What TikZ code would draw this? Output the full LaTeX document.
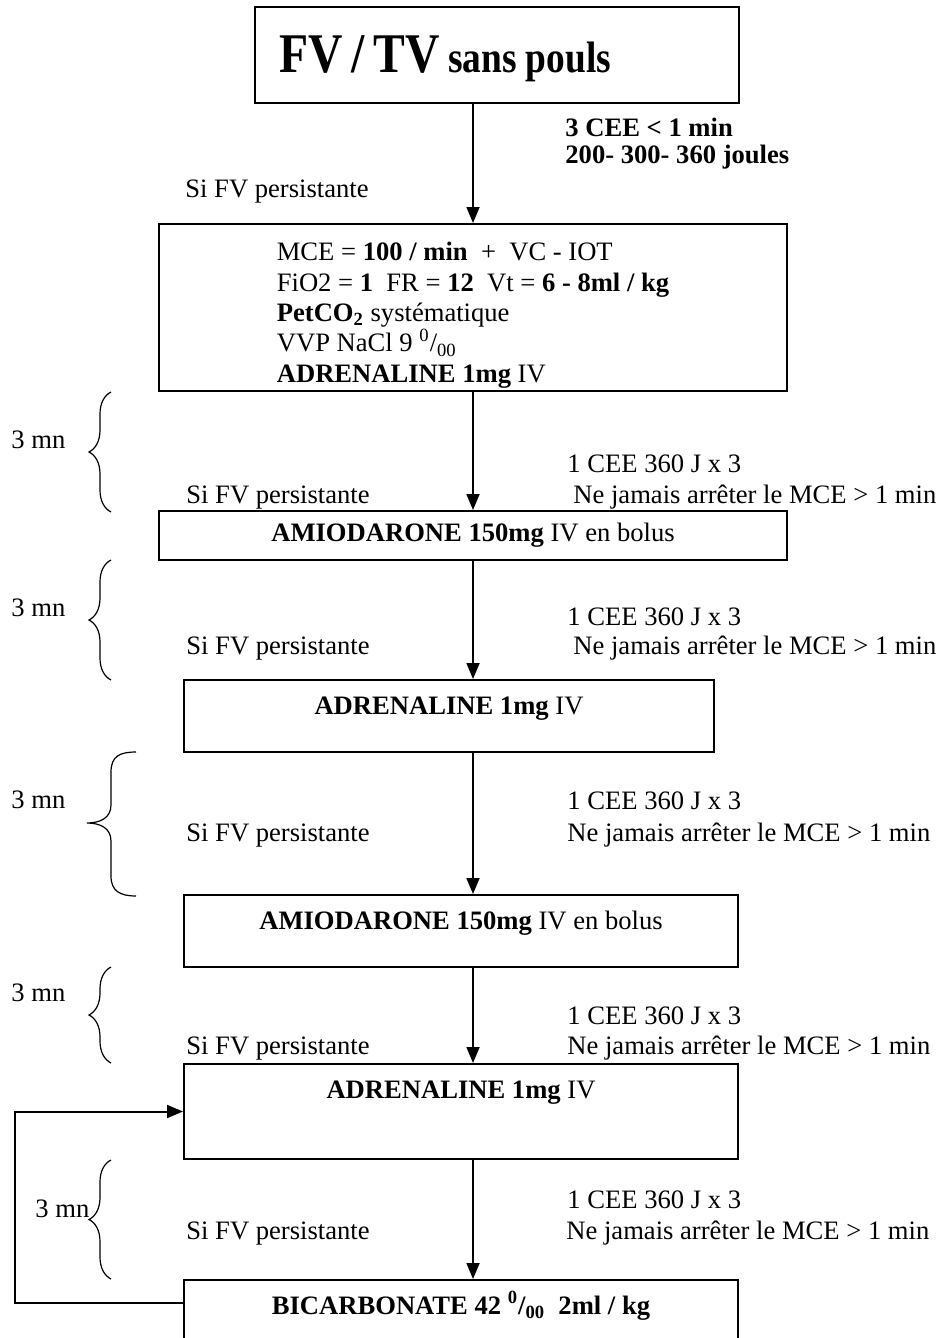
\documentclass[tikz,border=0pt]{standalone}
\usepackage{fontspec}
\setmainfont{Liberation Serif}
\newfontfamily\titlefont{Liberation Serif}[FakeStretch=0.85]
\usetikzlibrary{arrows.meta}
\usetikzlibrary{decorations.pathreplacing, positioning}

\begin{document}
\begin{tikzpicture}[x=0.5pt,y=-0.5pt,-,auto,
                    font=\fontsize{13.3pt}{15.2pt}\selectfont,
                    box node/.style={draw,line width=1pt,inner sep=0pt},
                    one line/.style={text height=9pt,text depth=#1},
                    one line/.default=3pt,
                    side node/.style={anchor=west,inner sep=0pt,text height=9pt,text depth=3pt},
                    arr/.style={-{Triangle[length=8pt,width=6.5pt]},line width=0.9pt},
                    curly/.style={decorate,decoration={brace,amplitude=#1},line width=0.6pt},
                    curly/.default=11pt]

  \useasboundingbox (0,0) rectangle (937,1338);
  \clip (0,0) rectangle (937,1338);

  % boxes
  \node[box node,minimum width=242pt,minimum height=48pt,text width=218pt,align=left,
        text height=22pt,text depth=4pt] (fv) at (497,55)
    {\titlefont\bfseries\fontsize{28pt}{30pt}\selectfont FV / TV \fontsize{22pt}{24pt}\selectfont sans pouls};
  \node[box node,minimum width=313.75pt,minimum height=83.5pt,align=left] (mce) at (473,307.5)
    {\rule{0pt}{17pt}MCE = \textbf{100 / min}~~+~~VC - IOT\\
     FiO2 = \textbf{1}~~FR = \textbf{12}~~Vt = \textbf{6 - 8ml / kg}\\
     \textbf{PetCO\textsubscript{2}} systématique\\
     VVP NaCl 9~\textsuperscript{0}/\textsubscript{00}\\
     \textbf{ADRENALINE 1mg} IV};
  \node[box node,one line,minimum width=314pt,minimum height=24.5pt] (amio1) at (473,535.5)
    {\textbf{AMIODARONE 150mg} IV en bolus};
  \node[box node,one line=11pt,minimum width=265pt,minimum height=36pt] (adre2) at (449,716)
    {\textbf{ADRENALINE 1mg} IV};
  \node[box node,one line=11pt,minimum width=277pt,minimum height=36pt] (amio2) at (461,931)
    {\textbf{AMIODARONE 150mg} IV en bolus};
  \node[box node,one line=22.5pt,minimum width=277pt,minimum height=47.5pt] (adre3) at (461,1111.5)
    {\textbf{ADRENALINE 1mg} IV};
  \node[box node,one line=20pt,minimum width=277pt,minimum height=45pt] (bicar) at (461,1325)
    {\textbf{BICARBONATE 42~\textsuperscript{0}/\textsubscript{00}~~2ml / kg}};

  % side texts
  \node[side node,font=\fontsize{13.3pt}{15.2pt}\selectfont\bfseries] (cee0) at (565,130) {3 CEE < 1 min};
  \node[side node,font=\fontsize{13.3pt}{15.2pt}\selectfont\bfseries] (joules) at (565,157) {200- 300- 360 joules};
  \node[side node] (si0) at (185,192) {Si FV persistante};

  \node[side node] (cee1) at (567,466) {1 CEE 360 J x 3};
  \node[side node] (ne1) at (573,497) {Ne jamais arrêter le MCE > 1 min};
  \node[side node] (si1) at (186,497) {Si FV persistante};

  \node[side node] (cee2) at (567,619) {1 CEE 360 J x 3};
  \node[side node] (ne2) at (573,648) {Ne jamais arrêter le MCE > 1 min};
  \node[side node] (si2) at (186,648) {Si FV persistante};

  \node[side node] (cee3) at (567,803) {1 CEE 360 J x 3};
  \node[side node] (ne3) at (567,835) {Ne jamais arrêter le MCE > 1 min};
  \node[side node] (si3) at (186,835) {Si FV persistante};

  \node[side node] (cee4) at (567,1018) {1 CEE 360 J x 3};
  \node[side node] (ne4) at (567,1048) {Ne jamais arrêter le MCE > 1 min};
  \node[side node] (si4) at (186,1048) {Si FV persistante};

  \node[side node] (cee5) at (567,1202) {1 CEE 360 J x 3};
  \node[side node] (ne5) at (566,1233) {Ne jamais arrêter le MCE > 1 min};
  \node[side node] (si5) at (186,1233) {Si FV persistante};

  % 3 mn braces
  \node[side node] (mn1) at (11,442) {3 mn};
  \node[side node] (mn2) at (11,610) {3 mn};
  \node[side node] (mn3) at (11,802) {3 mn};
  \node[side node] (mn4) at (11,995) {3 mn};
  \node[side node] (mn5) at (35,1211) {3 mn};

  \draw[curly] (111,512) -- (111,392);
  \draw[curly] (111,680) -- (111,560);
  \draw[line width=0.6pt] (136,752) .. controls (120,752) and (111,756) .. (111,772) -- (111,805)
    .. controls (111,818) and (100,823) .. (87,823) .. controls (100,823) and (111,828) .. (111,841)
    -- (111,876) .. controls (111,891) and (120,896) .. (136,896);
  \draw[curly] (111,1063) -- (111,967);
  \draw[curly] (111,1279) -- (111,1160);

  % arrows
  \path[arr]
    (fv.south -| mce.north) edge (mce.north)
    (mce.south)             edge (mce.south |- amio1.north)
    (amio1.south -| mce)    edge (adre2.north -| mce)
    (adre2.south -| mce)    edge (amio2.north -| mce)
    (amio2.south -| mce)    edge (adre3.north -| mce)
    (adre3.south -| mce)    edge (bicar.north -| mce);

  \coordinate (back) at (15,1303);
  \draw[arr,line width=1pt] (bicar.west |- back) -- (back) |- (adre3.west);

\end{tikzpicture}
\end{document}
